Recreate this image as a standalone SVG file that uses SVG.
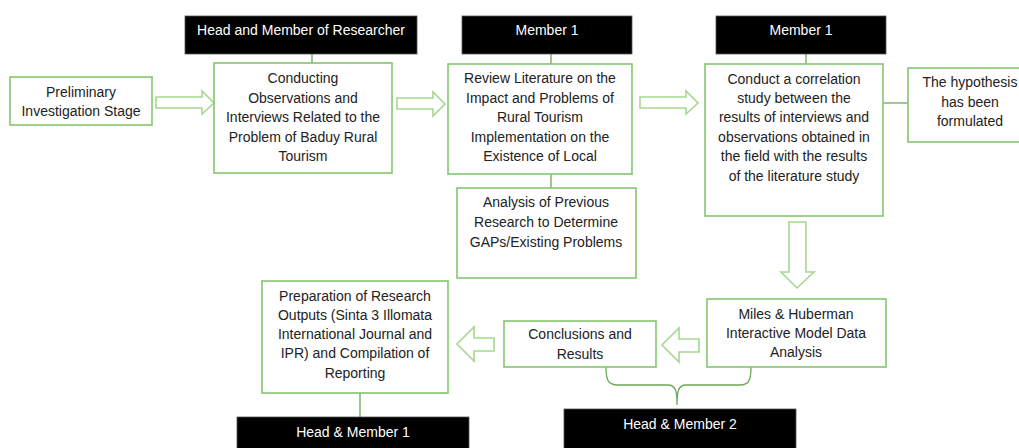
<svg xmlns="http://www.w3.org/2000/svg" width="1019" height="448" viewBox="0 0 1019 448">
<style>
.box{fill:#fff;stroke:#84c66f;stroke-width:1.6}
.blk{fill:#000;stroke:#555;stroke-width:0.8}
.t{font-family:"Liberation Sans",Arial,sans-serif;font-size:14px;fill:#222;text-anchor:middle}
.w{font-family:"Liberation Sans",Arial,sans-serif;font-size:14px;fill:#fff;text-anchor:middle}
.arr{fill:#fff;stroke:#a5d792;stroke-width:1.6;stroke-linejoin:miter}
.ln{fill:none;stroke:#6aaa55;stroke-width:1.3}
</style>
<rect width="1019" height="448" fill="#fff"/>
<g id="connectors">
<line class="ln" x1="312" y1="54" x2="312" y2="63"/>
<line class="ln" x1="551" y1="54" x2="551" y2="64"/>
<line class="ln" x1="551" y1="174" x2="551" y2="188"/>
<line class="ln" x1="806" y1="54" x2="806" y2="64"/>
<line class="ln" x1="883" y1="103" x2="908" y2="103"/>
<line class="ln" x1="360" y1="393" x2="360" y2="417"/>
<path class="ln" d="M606,367 C606,380 608,385 618,385 L668,385 C676,385 677,392 677,405 C677,392 678,385 686,385 L740,385 C749,385 751,380 751,367"/>
<polygon class="arr" points="156,97 202,97 202,91 214,103 202,114 202,108 156,108"/>
<polygon class="arr" points="397,98 433,98 433,92 445,104 433,116 433,109 397,109"/>
<polygon class="arr" points="640,97 686,97 686,91 698,103 686,114 686,108 640,108"/>
<polygon class="arr" points="789,222 806,222 806,272 814,272 797,288 781,272 789,272"/>
<polygon class="arr" points="699,339 679,339 679,328 662,345 679,362 679,352 699,352"/>
<polygon class="arr" points="494,338 474,338 474,327 457,344 474,361 474,351 494,351"/>
</g>
<g id="role1"><rect class="blk" x="185" y="16" width="232" height="38"/><text class="w" x="301" y="35">Head and Member of Researcher</text></g>
<g id="role2"><rect class="blk" x="462" y="16" width="170" height="38"/><text class="w" x="547" y="35">Member 1</text></g>
<g id="role3"><rect class="blk" x="716" y="16" width="170" height="38"/><text class="w" x="801" y="35">Member 1</text></g>
<g id="role4"><rect class="blk" x="237" y="417" width="232" height="40"/><text class="w" x="353" y="437">Head &amp; Member 1</text></g>
<g id="role5"><rect class="blk" x="564" y="409" width="232" height="45"/><text class="w" x="680" y="429">Head &amp; Member 2</text></g>
<g id="prelim"><rect class="box" x="10" y="77" width="142" height="48"/>
<text class="t" x="81" y="97">Preliminary</text><text class="t" x="81" y="116">Investigation Stage</text></g>
<g id="conducting"><rect class="box" x="214" y="63" width="178" height="110"/>
<text class="t" x="303" y="83">Conducting</text>
<text class="t" x="303" y="102.5">Observations and</text>
<text class="t" x="303" y="122">Interviews Related to the</text>
<text class="t" x="303" y="141.5">Problem of Baduy Rural</text>
<text class="t" x="303" y="161">Tourism</text></g>
<g id="review"><rect class="box" x="448" y="64" width="184" height="110"/>
<text class="t" x="540" y="83">Review Literature on the</text>
<text class="t" x="540" y="103">Impact and Problems of</text>
<text class="t" x="540" y="122">Rural Tourism</text>
<text class="t" x="540" y="142">Implementation on the</text>
<text class="t" x="540" y="161">Existence of Local</text></g>
<g id="analysis"><rect class="box" x="457" y="188" width="179" height="90"/>
<text class="t" x="546" y="207">Analysis of Previous</text>
<text class="t" x="546" y="227">Research to Determine</text>
<text class="t" x="546" y="247">GAPs/Existing Problems</text></g>
<g id="correlation"><rect class="box" x="705" y="64" width="178" height="152"/>
<text class="t" x="794" y="84">Conduct a correlation</text>
<text class="t" x="794" y="103">study between the</text>
<text class="t" x="794" y="122">results of interviews and</text>
<text class="t" x="794" y="142">observations obtained in</text>
<text class="t" x="794" y="161">the field with the results</text>
<text class="t" x="794" y="181">of the literature study</text></g>
<g id="hypothesis"><rect class="box" x="908" y="68" width="124" height="74"/>
<text class="t" x="970" y="87">The hypothesis</text>
<text class="t" x="970" y="107">has been</text>
<text class="t" x="970" y="126">formulated</text></g>
<g id="miles"><rect class="box" x="707" y="299" width="179" height="68"/>
<text class="t" x="796" y="319">Miles &amp; Huberman</text>
<text class="t" x="796" y="338">Interactive Model Data</text>
<text class="t" x="796" y="357">Analysis</text></g>
<g id="conclusions"><rect class="box" x="504" y="321" width="152" height="46"/>
<text class="t" x="580" y="339">Conclusions and</text>
<text class="t" x="580" y="359">Results</text></g>
<g id="preparation"><rect class="box" x="262" y="281" width="186" height="112"/>
<text class="t" x="355" y="301">Preparation of Research</text>
<text class="t" x="355" y="320">Outputs (Sinta 3 Illomata</text>
<text class="t" x="355" y="339">International Journal and</text>
<text class="t" x="355" y="358">IPR) and Compilation of</text>
<text class="t" x="355" y="378">Reporting</text></g>
</svg>
